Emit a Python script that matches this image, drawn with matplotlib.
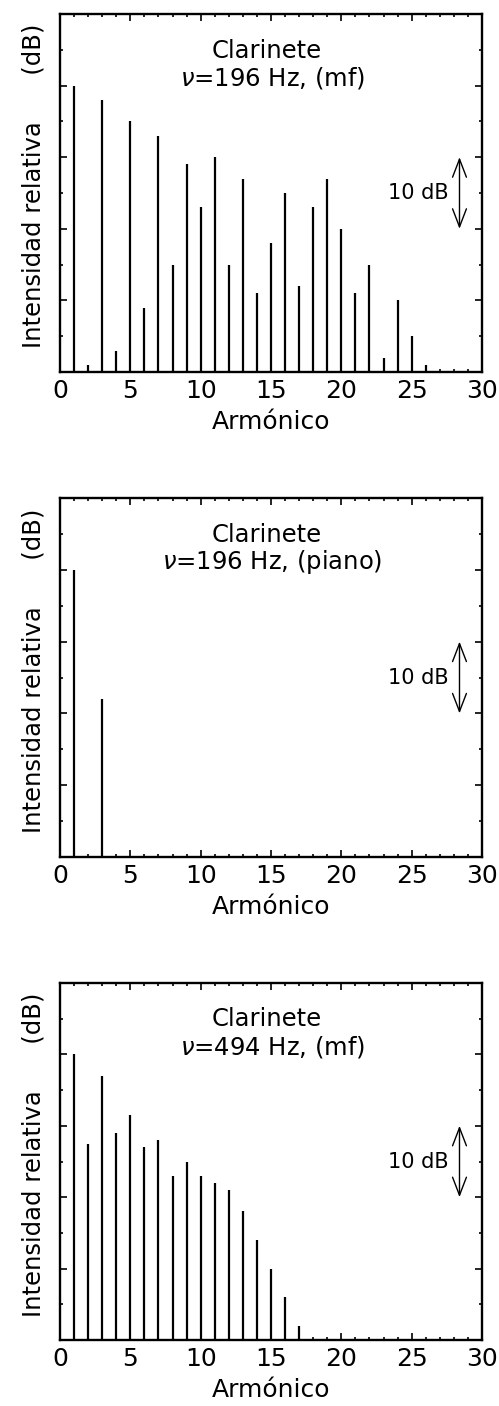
import numpy as np
import matplotlib
matplotlib.use('Agg')
import matplotlib.pyplot as plt
from matplotlib.ticker import MultipleLocator

arm_196_mf = list(range(1, 27))
db_196_mf = [40, 1, 38, 3, 35, 9, 33, 15, 29, 23, 30, 15, 27, 11, 18, 25, 12,
             23, 27, 20, 11, 15, 2, 10, 5, 1]

arm_196_p = [1, 3]
db_196_p = [40, 22]

arm_494_mf = list(range(1, 18))
db_494_mf = [40, 27.5, 37, 29, 31.5, 27, 28, 23, 25, 23, 22, 21, 18, 14, 10, 6, 2]

titulos = [r'$\nu$=196 Hz, (mf)', r'$\nu$=196 Hz, (piano)', r'$\nu$=494 Hz, (mf)']
paneles = [(arm_196_mf, db_196_mf), (arm_196_p, db_196_p), (arm_494_mf, db_494_mf)]

plt.rcParams['font.family'] = 'DejaVu Sans'

fig = plt.figure(figsize=(4.99, 14.06), dpi=100)
W, H = 499, 1406
cajas = [(14, 372), (498, 857), (983, 1340)]

for (top, bot), (x, y), tit in zip(cajas, paneles, titulos):
    ax = fig.add_axes([60 / W, 1 - bot / H, 422 / W, (bot - top) / H])
    ax.vlines(x, 0, y, color='black', linewidth=1.6)
    ax.set_xlim(0, 30)
    ax.set_ylim(0, 50)
    ax.xaxis.set_major_locator(MultipleLocator(5))
    ax.xaxis.set_minor_locator(MultipleLocator(1))
    ax.yaxis.set_major_locator(MultipleLocator(10))
    ax.yaxis.set_minor_locator(MultipleLocator(5))
    ax.tick_params(which='both', direction='in', top=True, right=True, width=1.2)
    ax.tick_params(which='major', length=5)
    ax.tick_params(which='minor', length=2.5)
    ax.tick_params(axis='x', labelsize=18, pad=5)
    ax.set_yticklabels([])
    for s in ax.spines.values():
        s.set_linewidth(1.7)
    ax.set_xlabel('Armónico', fontsize=18, labelpad=5)
    ax.set_ylabel('Intensidad relativa      (dB)', fontsize=17.5)
    ax.yaxis.set_label_coords(-0.035, 0.52)
    ax.text(14.7, 44.9, 'Clarinete', ha='center', va='center', fontsize=17.5)
    ax.text(15.1, 41.1, tit, ha='center', va='center', fontsize=17.5)
    # escala de 10 dB
    ax.annotate('', xy=(28.4, 30), xytext=(28.4, 20),
                arrowprops=dict(arrowstyle='<->, head_length=0.65, head_width=0.25',
                                color='black', lw=1.0, mutation_scale=20,
                                shrinkA=0, shrinkB=0))
    ax.text(27.6, 25, '10 dB', ha='right', va='center', fontsize=15)

fig.savefig('out.png', dpi=100)
